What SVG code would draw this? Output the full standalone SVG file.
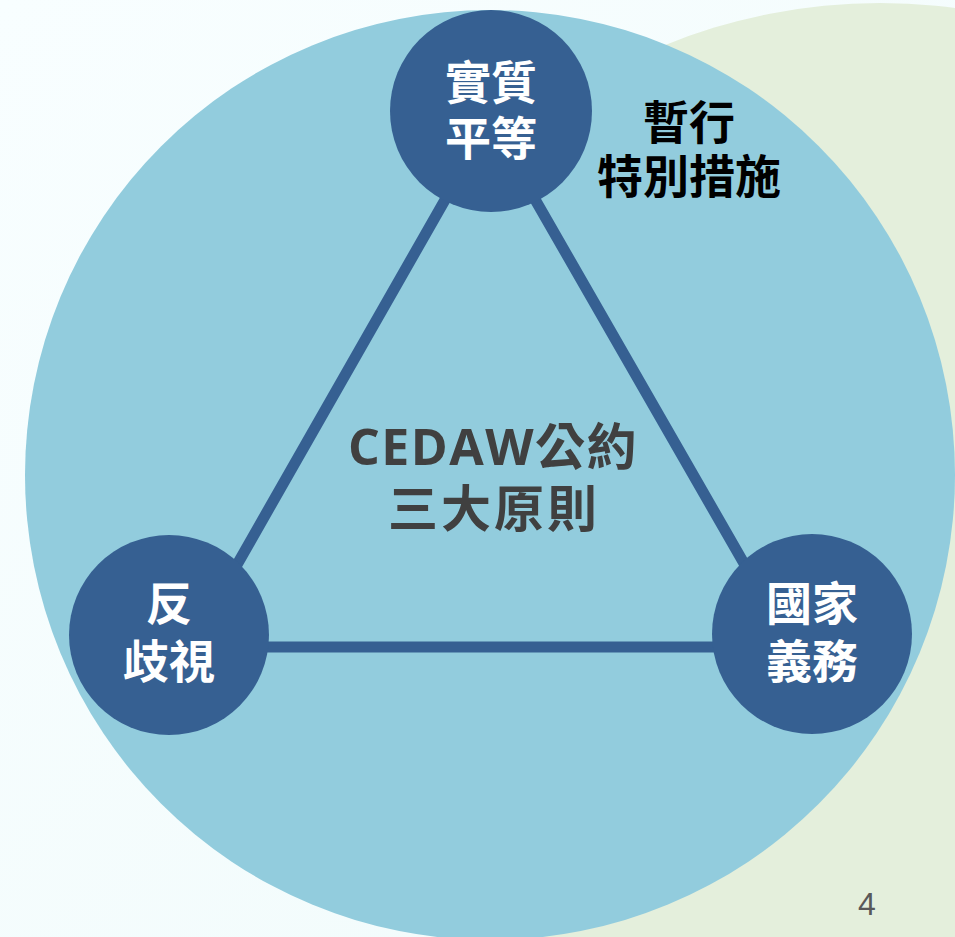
<svg xmlns="http://www.w3.org/2000/svg" width="955" height="937" viewBox="0 0 955 937">
  <defs>
    <linearGradient id="bg" x1="0" y1="0" x2="1" y2="1">
      <stop offset="0" stop-color="#F8FEFF"/>
      <stop offset="1" stop-color="#F1FBFB"/>
    </linearGradient>
  </defs>
  <style>
    .node { fill: #366092; }
    .conn { fill: none; stroke: #366092; stroke-width: 11; stroke-linejoin: round; }
    .cjk { font-family: "Noto Sans CJK TC", "Noto Sans", sans-serif; font-weight: 700; text-anchor: middle; }
    .white { fill: #FFFFFF; font-size: 46px; }
    .black { fill: #000000; font-size: 46px; }
    .center { fill: #404040; font-size: 50px; letter-spacing: 1.5px; }
    .latin { font-family: "Open Sans", "Noto Sans", sans-serif; font-weight: 700; }
    .page { font-family: "Liberation Sans", Arial, sans-serif; font-size: 32px; fill: #595959; text-anchor: middle; }
  </style>

  <rect x="0" y="0" width="955" height="937" fill="url(#bg)"/>
  <g id="background-shapes">
    <circle cx="880" cy="574" r="571" fill="#E4EFDC"/>
    <circle cx="490" cy="475" r="465" fill="#92CCDD"/>
  </g>

  <g id="connectors">
    <polygon class="conn" points="490,121 190,647 792,647"/>
  </g>

  <g id="node-substantive-equality">
    <circle class="node" cx="491" cy="111" r="101"/>
    <text class="cjk white" x="491" y="99">實質</text>
    <text class="cjk white" x="491" y="155">平等</text>
  </g>

  <g id="node-anti-discrimination">
    <circle class="node" cx="169" cy="635" r="100"/>
    <text class="cjk white" x="169" y="620">反</text>
    <text class="cjk white" x="169" y="678">歧視</text>
  </g>

  <g id="node-state-obligation">
    <circle class="node" cx="812" cy="634" r="100"/>
    <text class="cjk white" x="812" y="620">國家</text>
    <text class="cjk white" x="812" y="678">義務</text>
  </g>

  <g id="label-temporary-measures">
    <text class="cjk black" x="689" y="139">暫行</text>
    <text class="cjk black" x="689" y="193">特別措施</text>
  </g>

  <g id="label-center">
    <text class="cjk center" x="493" y="465"><tspan class="latin">CEDAW</tspan>公約</text>
    <text class="cjk center" x="494" y="527" style="letter-spacing:3px">三大原則</text>
  </g>

  <text class="page" x="867" y="915">4</text>
</svg>
